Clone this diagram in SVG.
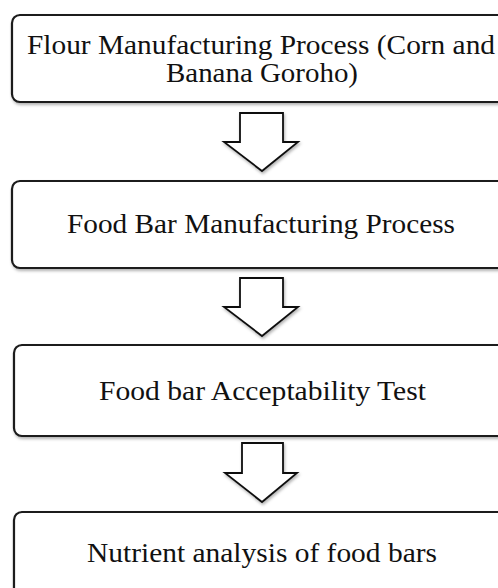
<svg xmlns="http://www.w3.org/2000/svg" width="498" height="588" viewBox="0 0 498 588">
<style>
.box{fill:#fff;stroke:#1a1a1a;stroke-width:2.2}
.arr{fill:#fff;stroke:#111;stroke-width:1.8;stroke-linejoin:miter}
text{font-family:"Liberation Serif","DejaVu Serif",serif;font-size:28px;fill:#111;text-anchor:start}
</style>
<defs>
<filter id="sh" x="-10%" y="-10%" width="130%" height="140%">
<feDropShadow dx="1" dy="2" stdDeviation="1.5" flood-color="#000" flood-opacity="0.3"/>
</filter>
</defs>
<rect width="498" height="588" fill="#fff"/>
<g id="n1">
<rect class="box" x="12" y="15" width="500" height="87" rx="8" filter="url(#sh)"/>
<text x="27" y="54" textLength="468" lengthAdjust="spacingAndGlyphs">Flour Manufacturing Process (Corn and</text>
<text x="166" y="82" textLength="192" lengthAdjust="spacingAndGlyphs">Banana Goroho)</text>
</g>
<g id="n2">
<rect class="box" x="12" y="181" width="500" height="87" rx="8" filter="url(#sh)"/>
<text x="67" y="233" textLength="388" lengthAdjust="spacingAndGlyphs">Food Bar Manufacturing Process</text>
</g>
<g id="n3">
<rect class="box" x="14" y="345" width="500" height="91" rx="8" filter="url(#sh)"/>
<text x="99" y="400" textLength="327" lengthAdjust="spacingAndGlyphs">Food bar Acceptability Test</text>
</g>
<g id="n4">
<rect class="box" x="14" y="512" width="500" height="100" rx="8" filter="url(#sh)"/>
<text x="87" y="562" textLength="350" lengthAdjust="spacingAndGlyphs">Nutrient analysis of food bars</text>
</g>
<g id="connectors" filter="url(#sh)">
<polygon class="arr" points="240,113 283,113 283,142 298,142 262,171 224,142 240,142"/>
<polygon class="arr" points="240,278 283,278 283,307 298,307 262,336 224,307 240,307"/>
<polygon class="arr" points="242,443 283,443 283,473 297,473 262,502 225,473 242,473"/>
</g>
</svg>
